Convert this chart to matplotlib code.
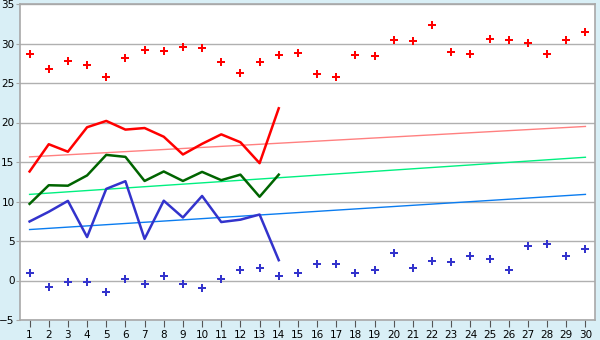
import numpy as np
import matplotlib
matplotlib.use("Agg")
import matplotlib.pyplot as plt

days = np.arange(1, 31)

# scatter series (30 days)
high_pts = [28.7, 26.8, 27.8, 27.3, 25.8, 28.2, 29.2, 29.0, 29.6, 29.4,
            27.7, 26.3, 27.6, 28.6, 28.8, 26.1, 25.7, 28.6, 28.4, 30.5,
            30.3, 32.4, 28.9, 28.7, 30.6, 30.5, 30.1, 28.7, 30.4, 31.5]
low_pts = [1.0, -0.76, -0.13, -0.25, -1.5, 0.13, -0.5, 0.63, -0.38, -0.89,
           0.25, 1.39, 1.52, 0.63, 0.89, 2.15, 2.15, 1.0, 1.27, 3.54,
           1.52, 2.53, 2.28, 3.16, 2.78, 1.39, 4.43, 4.56, 3.16, 4.05]

# line series (first 14 days)
line_days = np.arange(1, 15)
red_line = [13.8, 17.25, 16.3, 19.4, 20.2, 19.1, 19.3, 18.2, 15.95, 17.3,
            18.5, 17.5, 14.85, 21.8]
green_line = [9.7, 12.06, 12.0, 13.3, 15.9, 15.65, 12.6, 13.8, 12.6, 13.75,
              12.7, 13.4, 10.6, 13.4]
blue_line = [7.47, 8.7, 10.08, 5.5, 11.6, 12.57, 5.27, 10.1, 7.97, 10.7,
             7.4, 7.7, 8.35, 2.57]

# trend lines: value at day 1 and day 30
trend_days = [1, 30]
red_trend = [15.65, 19.5]
green_trend = [10.9, 15.6]
blue_trend = [6.45, 10.9]

bg = '#d9eff6'
fig = plt.figure(figsize=(6, 3.4), dpi=100, facecolor=bg)
ax = fig.add_axes([20/600, 20/340, 575/600, 316/340])
ax.set_facecolor('white')

ax.set_xlim(0.5, 30.5)
ax.set_ylim(-5, 35)
ax.set_yticks(range(-5, 36, 5))
ax.set_xticks(days)
ax.grid(axis='y', color='#b0b0b0', linewidth=1)
ax.set_axisbelow(True)
for s in ax.spines.values():
    s.set_color('#a8a8a8')
    s.set_linewidth(1.2)
ax.tick_params(axis='x', length=5, color='#555555', labelsize=7.5, pad=2)
ax.tick_params(axis='y', length=3, color='#a8a8a8', labelsize=7.5, pad=1)

ax.plot(trend_days, red_trend, color='#ff8080', lw=1)
ax.plot(trend_days, green_trend, color='#00f080', lw=1)
ax.plot(trend_days, blue_trend, color='#0a7cf0', lw=1)

ax.plot(line_days, red_line, color='#ff0000', lw=1.8)
ax.plot(line_days, green_line, color='#006400', lw=1.8)
ax.plot(line_days, blue_line, color='#3333cc', lw=1.8)

ax.plot(days, high_pts, 'P', color='#ff0000', ms=5.5, mew=0, ls='none')
ax.plot(days, low_pts, 'P', color='#3333cc', ms=5.5, mew=0, ls='none')

plt.savefig('out.png', dpi=100, facecolor=bg)
